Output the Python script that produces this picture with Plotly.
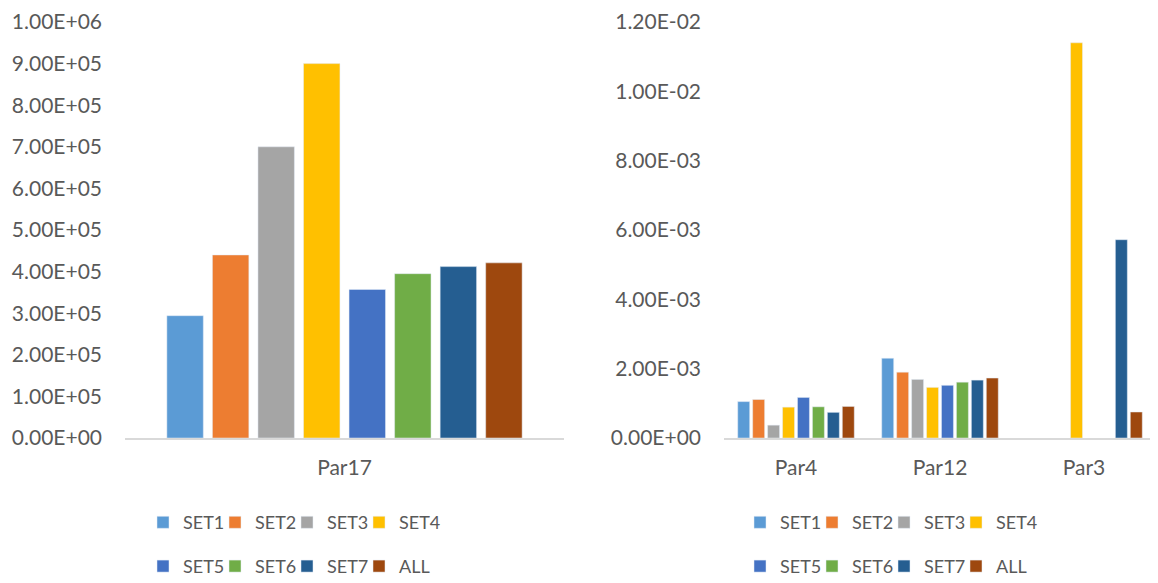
import plotly.graph_objects as go

series = ["SET1", "SET2", "SET3", "SET4", "SET5", "SET6", "SET7", "ALL"]
colors = ["#5B9BD5", "#ED7D31", "#A5A5A5", "#FFC000", "#4472C4", "#70AD47", "#255E91", "#9E480E"]

left_cats = ["Par17"]
left_vals = [2.94e5, 4.40e5, 7.00e5, 9.00e5, 3.57e5, 3.95e5, 4.12e5, 4.21e5]

right_cats = ["Par4", "Par12", "Par3"]
right_vals = {
    "SET1": [1.05e-3, 2.30e-3, None],
    "SET2": [1.11e-3, 1.90e-3, None],
    "SET3": [3.7e-4, 1.69e-3, None],
    "SET4": [8.9e-4, 1.46e-3, 1.14e-2],
    "SET5": [1.17e-3, 1.52e-3, None],
    "SET6": [9.0e-4, 1.61e-3, None],
    "SET7": [7.4e-4, 1.67e-3, 5.72e-3],
    "ALL": [9.1e-4, 1.73e-3, 7.5e-4],
}

left_tickvals = [0, 1e5, 2e5, 3e5, 4e5, 5e5, 6e5, 7e5, 8e5, 9e5, 1e6]
left_ticktext = ["0.00E+00", "1.00E+05", "2.00E+05", "3.00E+05", "4.00E+05", "5.00E+05",
                 "6.00E+05", "7.00E+05", "8.00E+05", "9.00E+05", "1.00E+06"]
right_tickvals = [0, 0.002, 0.004, 0.006, 0.008, 0.010, 0.012]
right_ticktext = ["0.00E+00", "2.00E-03", "4.00E-03", "6.00E-03", "8.00E-03", "1.00E-02", "1.20E-02"]

FONT = "Lato"
TXT = "#595959"

fig = go.Figure()
for i, (s, c) in enumerate(zip(series, colors)):
    leg_l = "legend" if i < 4 else "legend2"
    leg_r = "legend3" if i < 4 else "legend4"
    fig.add_trace(go.Bar(x=left_cats, y=[left_vals[i]], name=s, marker_color=c,
                         xaxis="x", yaxis="y", legend=leg_l, offsetgroup=s))
    fig.add_trace(go.Bar(x=right_cats, y=right_vals[s], name=s, marker_color=c,
                         xaxis="x2", yaxis="y2", legend=leg_r, offsetgroup=s))

# invisible spacer entries so the last legend label is not clipped
for leg, ax, ay in [("legend", "x", "y"), ("legend2", "x", "y"),
                    ("legend3", "x2", "y2"), ("legend4", "x2", "y2")]:
    fig.add_trace(go.Scatter(x=[None], y=[None], mode="markers", name=" ",
                             marker=dict(color="rgba(0,0,0,0)"), hoverinfo="skip",
                             xaxis=ax, yaxis=ay, legend=leg, showlegend=True))

# the page body adds an 8px offset; the figure is laid out in page pixels minus 8
OFF = 8
W, H = 1158 - OFF, 583
top, bottom = 20 - OFF, 438 - OFF
ph = bottom - top

axis_font = dict(family=FONT, size=21, color=TXT)

fig.update_layout(
    width=W, height=H,
    margin=dict(l=0, r=0, t=top, b=H - bottom),
    paper_bgcolor="white", plot_bgcolor="white",
    barmode="group", bargap=0.17, bargroupgap=0.2,
    font=dict(family=FONT, size=21, color=TXT),
    xaxis=dict(domain=[(125 - OFF) / W, (564 - OFF) / W], anchor="y", showgrid=False,
               showline=True, linecolor="#D9D9D9", linewidth=2, ticks="",
               tickfont=axis_font, ticklabelstandoff=10),
    yaxis=dict(range=[0, 1e6], tickvals=left_tickvals, ticktext=left_ticktext,
               showgrid=False, showline=False, zeroline=False, ticks="",
               tickfont=axis_font, ticklabelstandoff=22, anchor="x",
               ticklabeloverflow="allow"),
    xaxis2=dict(domain=[(724 - OFF) / W, (1156 - OFF) / W], anchor="y2", showgrid=False,
                showline=True, linecolor="#D9D9D9", linewidth=2, ticks="",
                tickfont=axis_font, ticklabelstandoff=10),
    yaxis2=dict(range=[0, 0.012], tickvals=right_tickvals, ticktext=right_ticktext,
                showgrid=False, showline=False, zeroline=False, ticks="",
                tickfont=axis_font, ticklabelstandoff=22, anchor="x2",
                ticklabeloverflow="allow"),
)

leg_common = dict(orientation="h", xanchor="left", yanchor="middle",
                  font=dict(family=FONT, size=18, color=TXT),
                  entrywidth=27, entrywidthmode="pixels",
                  bgcolor="rgba(0,0,0,0)", itemclick=False, itemdoubleclick=False)
y1 = -85 / ph
y2 = -129 / ph
xl = 135 / W
xr = 732 / W
fig.update_layout(
    legend=dict(x=xl, y=y1, **leg_common),
    legend2=dict(x=xl, y=y2, **leg_common),
    legend3=dict(x=xr, y=y1, **leg_common),
    legend4=dict(x=xr, y=y2, **leg_common),
)

fig.write_html("out.html")
